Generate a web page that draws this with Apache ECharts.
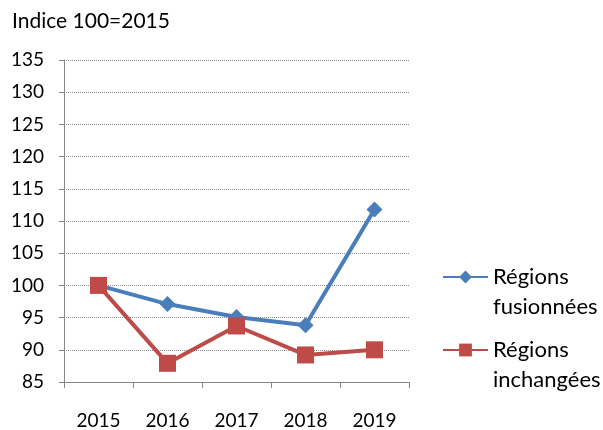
<!DOCTYPE html>
<html>
<head>
<meta charset="utf-8">
<script src="https://cdn.jsdelivr.net/npm/echarts@6/dist/echarts.min.js"></script>
<style>
  html, body { margin: 0; padding: 0; background: #fff; }
  #main { width: 603px; height: 430px; }
</style>
</head>
<body>
<div id="main"></div>
<script>
// données
var years = ['2015', '2016', '2017', '2018', '2019'];
var fusionnees = [100, 97.1, 95.1, 93.8, 111.8];
var inchangees = [100, 87.9, 93.7, 89.2, 90.0];
var seriesNames = ['Régions fusionnées', 'Régions inchangées'];

var font = 'Lato';
var chart = echarts.init(document.getElementById('main'));

// une légende par série : icône alignée sur la 1re ligne du texte
// (ligne vide devant pour que "Régions" tombe au centre de l'icône)
function legendFor(name, top) {
  return {
    orient: 'vertical',
    left: 442, top: top,
    padding: 0,
    itemWidth: 45, itemHeight: 16,
    data: [name],
    formatter: function (n) { return '\n' + n.replace(' ', '\n'); },
    textStyle: { fontFamily: font, fontSize: 22, color: '#000', lineHeight: 30 }
  };
}

var option = {
  animation: false,
  title: {
    text: 'Indice 100=2015',
    left: 7, top: 6,
    textStyle: { fontFamily: font, fontSize: 21, fontWeight: 'normal', color: '#000' }
  },
  grid: { left: 64, right: 194, top: 60, bottom: 48 },
  legend: [
    legendFor(seriesNames[0], 232),
    legendFor(seriesNames[1], 305)
  ],
  xAxis: {
    type: 'category',
    data: years,
    boundaryGap: true,
    axisLine: { lineStyle: { color: '#868686', width: 1 } },
    axisTick: { show: true, length: 6, lineStyle: { color: '#868686' } },
    axisLabel: { fontFamily: font, fontSize: 19, color: '#000', margin: 29 }
  },
  yAxis: {
    type: 'value',
    min: 85, max: 135, interval: 5,
    axisLine: { show: true, lineStyle: { color: '#868686', width: 1 } },
    axisTick: { show: true, length: 5, lineStyle: { color: '#868686' } },
    axisLabel: { fontFamily: font, fontSize: 19, color: '#000', margin: 20 },
    splitLine: { lineStyle: { type: 'dotted', color: '#8c8c8c', width: 1 } }
  },
  series: [
    {
      name: seriesNames[0],
      type: 'line',
      data: fusionnees,
      symbol: 'diamond',
      symbolSize: 16,
      lineStyle: { color: '#4A7EBB', width: 4 },
      itemStyle: { color: '#4A7EBB' },
      z: 2
    },
    {
      name: seriesNames[1],
      type: 'line',
      data: inchangees,
      symbol: 'rect',
      symbolSize: 17,
      lineStyle: { color: '#BE4B48', width: 4 },
      itemStyle: { color: '#BE4B48' },
      z: 3
    }
  ]
};

chart.setOption(option);
window.onresize = chart.resize;
</script>
</body>
</html>
